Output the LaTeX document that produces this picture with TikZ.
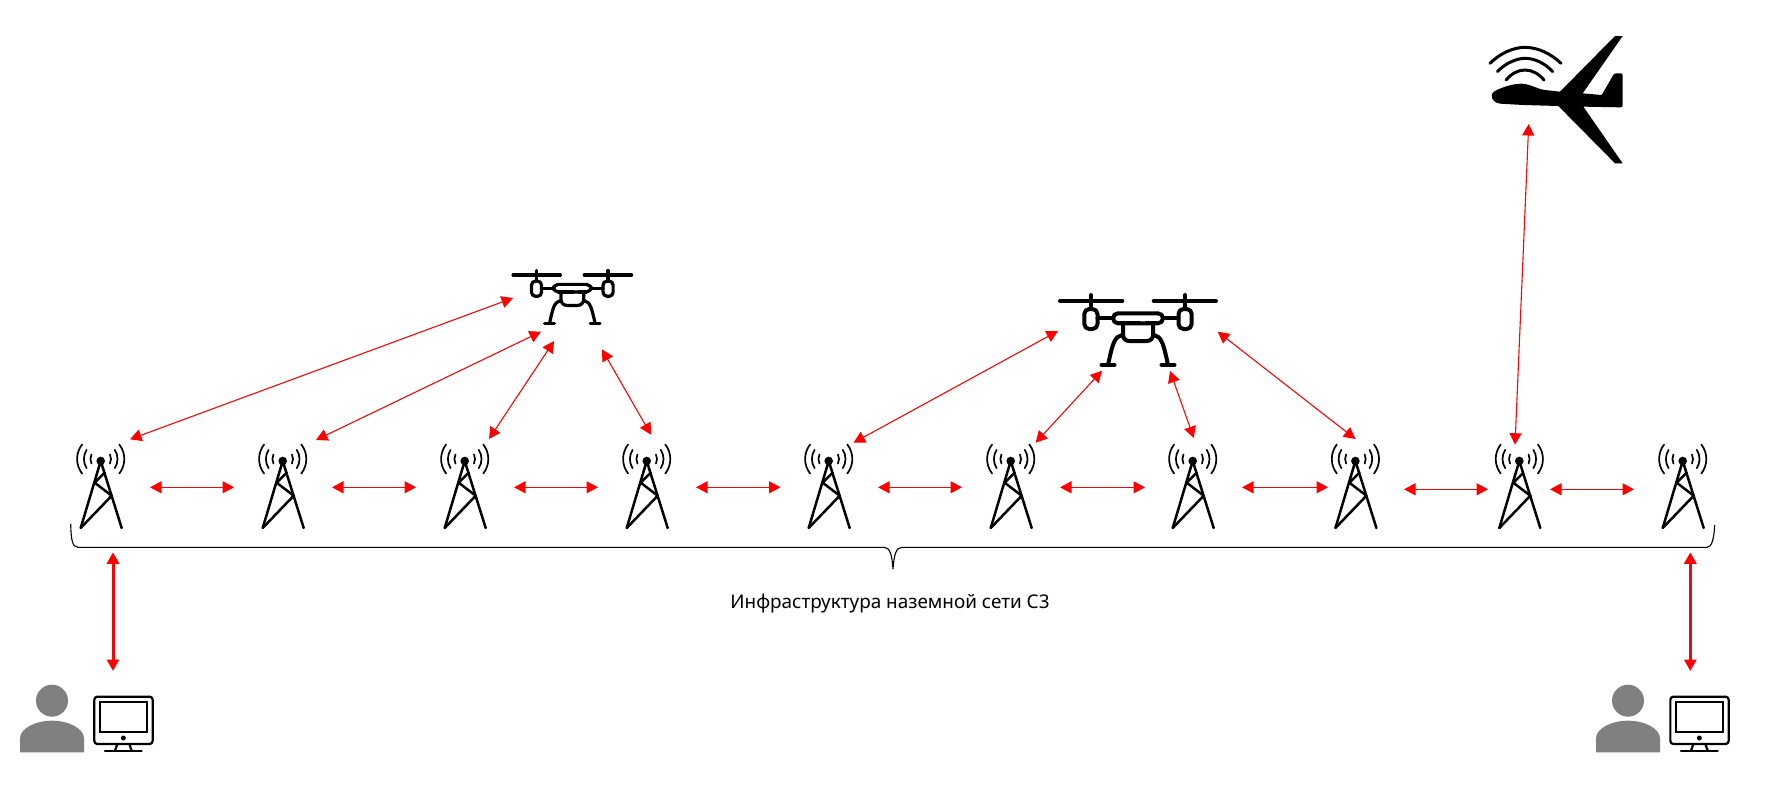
\documentclass[tikz,border=0pt]{standalone}
\usepackage{fontspec}
\setmainfont{Noto Sans}
\usetikzlibrary{arrows.meta,calc}
\definecolor{linkred}{RGB}{238,10,10}
\definecolor{persongrey}{RGB}{128,128,128}
\tikzset{
  link/.style={draw=linkred,line width=1.1pt,{Triangle[length=11.5pt,width=12pt,color=red]}-{Triangle[length=11.5pt,width=12pt,color=red]}},
  hlink/.style={link,line width=1.4pt},
  thicklink/.style={link,line width=3pt},
  towerline/.style={line width=2.5pt,line cap=round},
  waveline/.style={line width=1.7pt,line cap=round},
  icon/.style={line width=#1,line cap=round,line join=round},
  pics/towerpic/.style={code={
    \draw[towerline] (-20,67) -- (0,0) -- (21,67);
    \draw[towerline,line join=round] (4,11.7) -- (-6,21.7) -- (11,34.7) -- (-20,67);
    \fill (0,0) circle[radius=4.3];
    \begin{scope}[shift={(0,-2)}]
      \foreach \r/\a in {23.6/38,16.8/33,10.3/26}{
        \draw[waveline] (180-\a:\r) arc[start angle=180-\a,end angle=180+\a,radius=\r];
        \draw[waveline] (\a:\r) arc[start angle=\a,end angle=-\a,radius=\r];
      }
    \end{scope}
  }},
  pics/dronepic/.style={code={
    \foreach \s in {-1,1}{
      \begin{scope}[xscale=\s]
        \draw[icon=#1] (15.7,0) -- (78,0);
        \draw[icon=#1] (47,-6) -- (47,8);
        \draw[icon=#1,rounded corners=5*#1/4] (40.5,8) rectangle (53.7,28);
        \draw[icon=#1] (25,17.3) -- (40.5,17.3);
        \draw[icon=#1] (16,34) .. controls (23,36) and (25,40) .. (30,64);
        \draw[icon=#1] (23.5,64) -- (36.5,64);
      \end{scope}
    }
    \draw[icon=#1,rounded corners=5pt] (-25,12.3) rectangle (25,22.3);
    \draw[icon=#1] (-18,22.3) -- (1.3,22.3);
    \draw[icon=#1] (8.7,22.3) -- (18,22.3);
    \draw[icon=#1,rounded corners=6pt] (-15,22.3) -- (-15,40) -- (15,40) -- (15,22.3);
  }},
  pics/userpic/.style={code={
    \begin{scope}[x=0.33333pt,y=-0.33333pt]
      \fill[persongrey] (126,92) circle[radius=48];
      \fill[persongrey] (30,247) -- (222,247) -- (222,205) .. controls (222,175) and (175,152) .. (126,152)
        .. controls (77,152) and (30,175) .. (30,205) -- cycle;
      \draw[icon=2.2pt,rounded corners=3pt] (253,80) rectangle (428,222);
      \draw[line width=2pt] (270,97) rectangle (412,187);
      \fill (340,204) circle[radius=7.5];
      \draw[icon=2.2pt] (322,222) -- (315,242);
      \draw[icon=2.2pt] (358,222) -- (365,242);
      \draw[icon=2.2pt] (285,242) -- (395,242);
    \end{scope}
  }},
}
\begin{document}
\begin{tikzpicture}[x=1pt,y=-1pt]
\useasboundingbox (0,0) rectangle (1784,785);
\path[fill=white] (0,0) rectangle (1784,785);

% towers
\foreach \n/\x in {1/100.7,2/282.7,3/464.7,4/646.7,5/828.7,6/1010.7,7/1192.7,8/1355.4,9/1519.3,10/1682.7}{
  \coordinate (t\n) at (\x,461);
  \pic at (t\n) {towerpic};
}

% drones
\coordinate (d1) at (572.3,275);
\coordinate (d2) at (1138,301);
\pic[scale=0.76] at (d1) {dronepic=3.2pt};
\pic at (d2) {dronepic=4pt};

% plane
\coordinate (plane) at (1490,25);
\begin{scope}[shift={(plane)},x=0.33333pt,y=-0.33333pt]
  \fill[line join=round] (5,212) .. controls (5,203) and (15,197) .. (25,193)
    .. controls (50,182) and (75,176) .. (95,176)
    .. controls (125,178) and (140,192) .. (165,195) -- (210,200)
    -- (375,33) -- (398,33) -- (278,205) -- (335,210) -- (370,150)
    .. controls (372,146) and (376,145) .. (380,145) -- (392,145)
    .. controls (396,145) and (398,147) .. (398,150) -- (398,240)
    .. controls (398,245) and (396,247) .. (392,247) -- (280,245)
    -- (398,415) -- (375,415) -- (205,243) -- (100,240) -- (30,236)
    .. controls (15,234) and (5,224) .. (5,212) -- cycle;
  \draw[line width=3pt,line cap=round] (0,115) .. controls (30,85) and (70,67) .. (105,67) .. controls (145,67) and (185,88) .. (213,115);
  \draw[line width=3pt,line cap=round] (22,140) .. controls (45,115) and (80,100) .. (105,100) .. controls (135,100) and (165,115) .. (188,140);
  \draw[line width=3pt,line cap=round] (48,165) .. controls (65,145) and (85,135) .. (105,135) .. controls (125,135) and (145,145) .. (162,165);
\end{scope}

% users
\coordinate (u1) at (10,670);
\coordinate (u2) at (1586,670);
\pic at (u1) {userpic};
\pic at (u2) {userpic};

% horizontal links
\foreach \n/\a/\b/\y in {1/150/234/487.3,2/332/416/487.3,3/514/598/487.3,4/696/780.5/487.3,5/878/962/487.3,6/1060/1145/487.3,7/1242/1328/487.3,8/1404/1488/489.3,9/1550/1634/489.3}{
  \coordinate (h\n a) at (\a,\y);
  \coordinate (h\n b) at (\b,\y);
  \draw[hlink] (h\n a) -- (h\n b);
}

% diagonal links
\foreach \n/\ax/\ay/\bx/\by in {
  1/130/439.3/513/298,
  2/316/440/541/331.7,
  3/489/439/554/341,
  4/602/349.4/651/434.7,
  5/853.5/442.7/1058/331,
  6/1035.6/442.7/1102/370.7,
  7/1170/371/1193.8/438,
  8/1217.7/331.7/1355.4/439,
  9/1528.7/124/1515/444.7}{
  \coordinate (l\n a) at (\ax,\ay);
  \coordinate (l\n b) at (\bx,\by);
  \draw[link] (l\n a) -- (l\n b);
}

% vertical links
\coordinate (v1a) at (113,552.3);
\coordinate (v1b) at (113,671);
\coordinate (v2a) at (1690.3,552.3);
\coordinate (v2b) at (1690.3,671);
\draw[thicklink] (v1a) -- (v1b);
\draw[thicklink] (v2a) -- (v2b);

% brace
\coordinate (bl) at (70.7,524);
\coordinate (bm) at (893,569);
\coordinate (br) at (1714.7,525);
\draw[line width=1.1pt,line join=round] (bl) .. controls (71,538) and (72,547.3) .. (78,547.3)
  -- (884,547.3) .. controls (890,547.3) and (892,555) .. (bm)
  .. controls (894,555) and (896,547.3) .. (902,547.3)
  -- (1707,547.3) .. controls (1712,547.3) and (1714,538) .. (br);

% label
\node[inner sep=0pt,font=\fontsize{18.9}{22}\selectfont] (label) at (890,604) {Инфраструктура наземной сети С3};
\end{tikzpicture}
\end{document}
